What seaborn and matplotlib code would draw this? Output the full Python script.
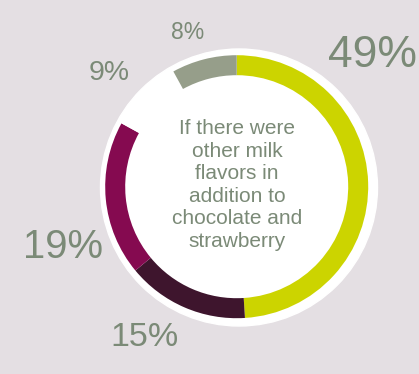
import matplotlib
matplotlib.use("Agg")
import matplotlib.pyplot as plt
import seaborn as sns

# Share of answers, clockwise from 12 o'clock
segments = ["Yes, definitely", "Probably", "Maybe", "Unsure", "No"]
shares = [49, 15, 19, 9, 8]
label_text = [f"{v}%" for v in shares]
ring_colors = ["#ccd400", "#3e152d", "#850a50", "#ffffff", "#969e8a"]

centre_title = "If there were\nother milk\nflavors in\naddition to\nchocolate and\nstrawberry"

sns.set_style("white")
plt.rcParams["font.family"] = ["Liberation Sans", "DejaVu Sans"]

BG = "#e4dfe3"
TXT = "#7b8a77"

W, H = 419, 374
fig = plt.figure(figsize=(W / 100, H / 100), dpi=100)
fig.patch.set_facecolor(BG)
ax = fig.add_axes([0, 0, 1, 1])
ax.set_facecolor(BG)

cx, cy = 236.7, H - 186.7

# white disc behind the ring
ax.add_patch(plt.Circle((239, H - 187.5), 138.5, color="white", zorder=1))

wedges, _ = ax.pie(
    shares,
    colors=ring_colors,
    startangle=90,
    counterclock=False,
    radius=131.5,
    center=(cx, cy),
    wedgeprops=dict(width=20, linewidth=0),
    frame=True,
)
for w in wedges:
    w.set_zorder(2)
ax.set_xlim(0, W)
ax.set_ylim(0, H)
ax.set_aspect("equal")
ax.axis("off")

# value labels around the ring
label_pos = [(372, 55), (144, 337), (63, 247), (109, 73), (188, 32)]
label_size = [32, 24.5, 28.8, 20.4, 16.5]
for txt, (x, y), fs in zip(label_text, label_pos, label_size):
    ax.text(x, H - y, txt, ha="center", va="center", fontsize=fs,
            color=TXT, zorder=3)

ax.text(237, H - 185, centre_title, ha="center", va="center",
        fontsize=15, color=TXT, linespacing=1.24, zorder=3)

fig.savefig("out.png", dpi=100, facecolor=BG)
